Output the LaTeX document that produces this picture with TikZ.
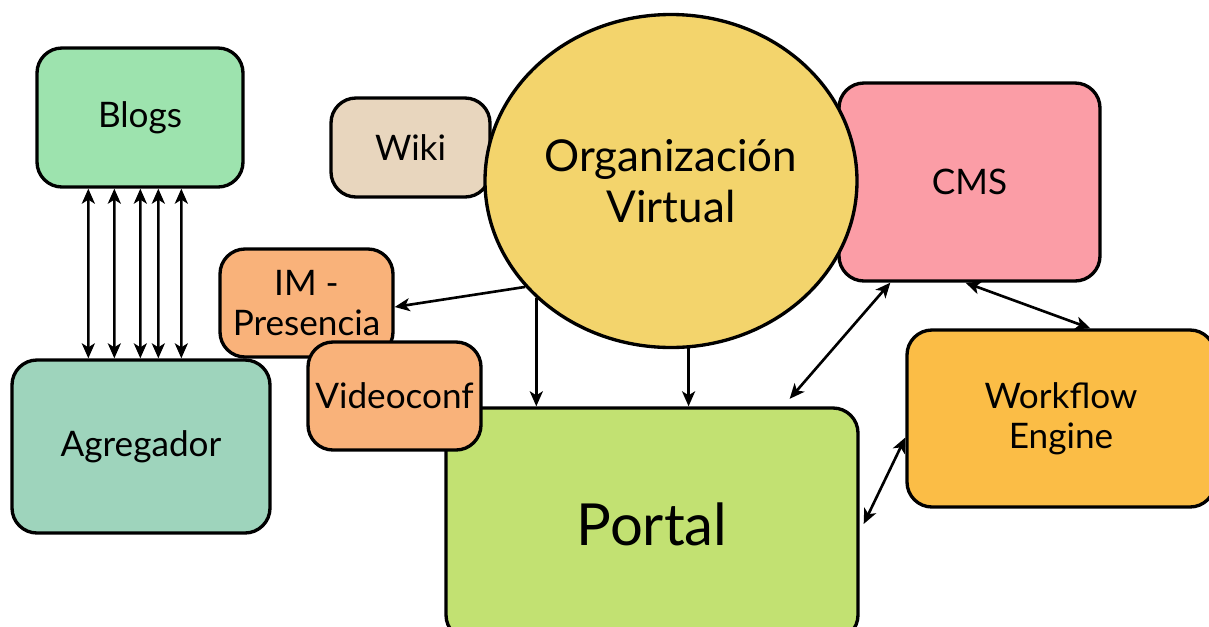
\documentclass[tikz,border=0pt]{standalone}
\usepackage{fontspec}
\setmainfont{Lato}
\usetikzlibrary{positioning,shapes.geometric,arrows.meta}

\definecolor{blogsgreen}{HTML}{9DE3AE}
\definecolor{agregteal}{HTML}{9ED4BC}
\definecolor{wikibeige}{HTML}{E8D6BE}
\definecolor{orgyellow}{HTML}{F3D46C}
\definecolor{cmspink}{HTML}{FB9DA6}
\definecolor{imorange}{HTML}{F9B27A}
\definecolor{portalgreen}{HTML}{C2E172}
\definecolor{wforange}{HTML}{FBBD46}

\begin{document}
\begin{tikzpicture}[>={Stealth[length=0.3cm,width=0.26cm,inset=0.08cm]},
  % basic styles for the boxes and the connectors
  box/.style={draw=black, line width=1.9pt, rounded corners=0.5cm, align=center,
              font=\fontsize{20}{23}\selectfont},
  link/.style={line width=1.5pt}]
  % the frame of the whole picture
  \useasboundingbox (0,0) rectangle (24.18,-12.52);

  % The boxes on the left
  \node[box, fill=blogsgreen, minimum width=4.12cm, minimum height=2.78cm]
    (blogs) at (2.80,-2.35) {Blogs};
  \node[box, fill=agregteal, minimum width=5.16cm, minimum height=3.46cm]
    (agreg) at (2.82,-8.93) {Agregador};

  % Wiki and CMS go under the circle
  \node[box, fill=wikibeige, minimum width=3.18cm, minimum height=1.98cm]
    (wiki) at (8.21,-2.95) {Wiki};
  \node[box, fill=cmspink, minimum width=5.22cm, minimum height=3.96cm]
    (cms) at (19.39,-3.64) {CMS};

  % The big circle
  \node[draw=black, line width=1.9pt, ellipse, fill=orgyellow, inner sep=0pt,
        minimum width=7.44cm, minimum height=6.66cm, align=center,
        font=\fontsize{25}{29}\selectfont]
    (orgv) at (13.42,-3.62) {Organización\\Virtual};

  % Portal and the small boxes on top of it
  \node[box, fill=portalgreen, minimum width=8.24cm, minimum height=4.64cm,
        font=\fontsize{33}{38}\selectfont]
    (portal) at (13.04,-10.48) {Portal};
  \node[box, fill=imorange, minimum width=3.46cm, minimum height=2.16cm]
    (im) at (6.13,-6.06) {IM -\\Presencia};
  \node[box, fill=imorange, minimum width=3.46cm, minimum height=2.16cm]
    (video) at (7.89,-7.92) {Videoconf};
  \node[box, fill=wforange, minimum width=6.16cm, minimum height=3.54cm]
    (wf) at (21.22,-8.37) {Workflow\\Engine};

  % Blogs <-> Agregador
  \foreach \dx in {1.06,1.58,2.10,2.46,2.92}
    \draw[link, <->] ([xshift=\dx cm]blogs.south west) -- ([xshift=\dx cm+0.5cm]agreg.north west);

  % From the circle
  \draw[link, ->] (orgv.216) -- ([yshift=-0.08cm]im.east);
  \draw[link, ->] (orgv.221) -- (orgv.221 |- portal.north);
  \draw[link, ->] (orgv.276) -- (orgv.276 |- portal.north);

  % CMS, Workflow and Portal
  \draw[link, <->] ([xshift=1.06cm]cms.south west) -- ([xshift=-1.4cm,yshift=0.15cm]portal.north east);
  \draw[link, <->] ([xshift=-0.08cm]cms.south) -- ([xshift=3.7cm]wf.north west);
  \draw[link, <->] ([yshift=-0.38cm]wf.west) -- ([xshift=0.08cm]portal.east);
\end{tikzpicture}
\end{document}
